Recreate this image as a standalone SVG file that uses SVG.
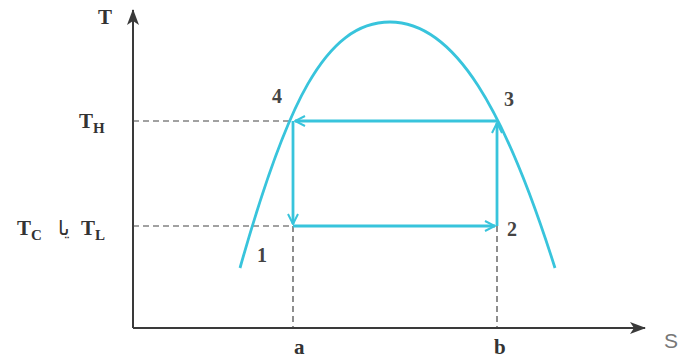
<svg xmlns="http://www.w3.org/2000/svg" width="683" height="359" viewBox="0 0 683 359">
<defs>
<style>
.ax{stroke:#3a3a3a;stroke-width:2;fill:none}
.dash{stroke:#444;stroke-width:1.2;stroke-dasharray:6,4;fill:none}
.cy{stroke:#38c4dc;stroke-width:2.8;fill:none}
.t{font-family:"Liberation Serif",serif;fill:#333;font-size:21px;font-weight:bold}
.n{font-family:"Liberation Serif",serif;fill:#444;font-size:20px;font-weight:bold}
.sub{font-size:15px}
</style>
<marker id="ca" viewBox="0 0 12 12" refX="11" refY="6" markerWidth="12" markerHeight="12" markerUnits="userSpaceOnUse" orient="auto">
<polyline points="1,1 11,6 1,11" fill="none" stroke="#38c4dc" stroke-width="2"/>
</marker>
<marker id="ka" viewBox="0 0 16 12" refX="15" refY="6" markerWidth="16" markerHeight="12" markerUnits="userSpaceOnUse" orient="auto">
<path d="M0,0 L16,6 L0,12 L4,6 Z" fill="#3a3a3a"/>
</marker>
</defs>
<rect width="683" height="359" fill="#fff"/>
<g id="axes">
<line class="ax" x1="133" y1="328" x2="133" y2="10" marker-end="url(#ka)"/>
<line class="ax" x1="133" y1="328" x2="645" y2="328" marker-end="url(#ka)"/>
<text class="t" x="98" y="24">T</text>
<text x="664" y="348" style="font-family:'Liberation Sans',sans-serif;fill:#777;font-size:21px">S</text>
<text class="t" x="294" y="354">a</text>
<text class="t" x="494" y="354">b</text>
</g>
<g id="dashes">
<line class="dash" x1="133" y1="121" x2="293" y2="121"/>
<line class="dash" x1="133" y1="226" x2="293" y2="226"/>
<line class="dash" x1="293" y1="226" x2="293" y2="328"/>
<line class="dash" x1="497" y1="226" x2="497" y2="328"/>
</g>
<g id="dome">
<path class="cy" d="M240,268 C286,105 325,22 390,22 C455,22 505,110 555,268"/>
</g>
<g id="connectors">
<line class="cy" x1="497" y1="121" x2="295" y2="121" marker-end="url(#ca)"/>
<line class="cy" x1="293" y1="121" x2="293" y2="224" marker-end="url(#ca)"/>
<line class="cy" x1="293" y1="226" x2="495" y2="226" marker-end="url(#ca)"/>
<line class="cy" x1="497" y1="226" x2="497" y2="123" marker-end="url(#ca)"/>
</g>
<g id="labels">
<text class="t" x="79" y="128">T<tspan class="sub" dy="5">H</tspan></text>
<text class="t" x="17" y="235">T<tspan class="sub" dy="5">C</tspan></text>
<text x="58" y="235" style="font-family:'DejaVu Sans',sans-serif;font-size:20px;fill:#333">یا</text>
<text class="t" x="81" y="235">T<tspan class="sub" dy="5">L</tspan></text>
<text class="n" x="272" y="103">4</text>
<text class="n" x="504" y="106">3</text>
<text class="n" x="507" y="236">2</text>
<text class="n" x="257" y="262">1</text>
</g>
</svg>
